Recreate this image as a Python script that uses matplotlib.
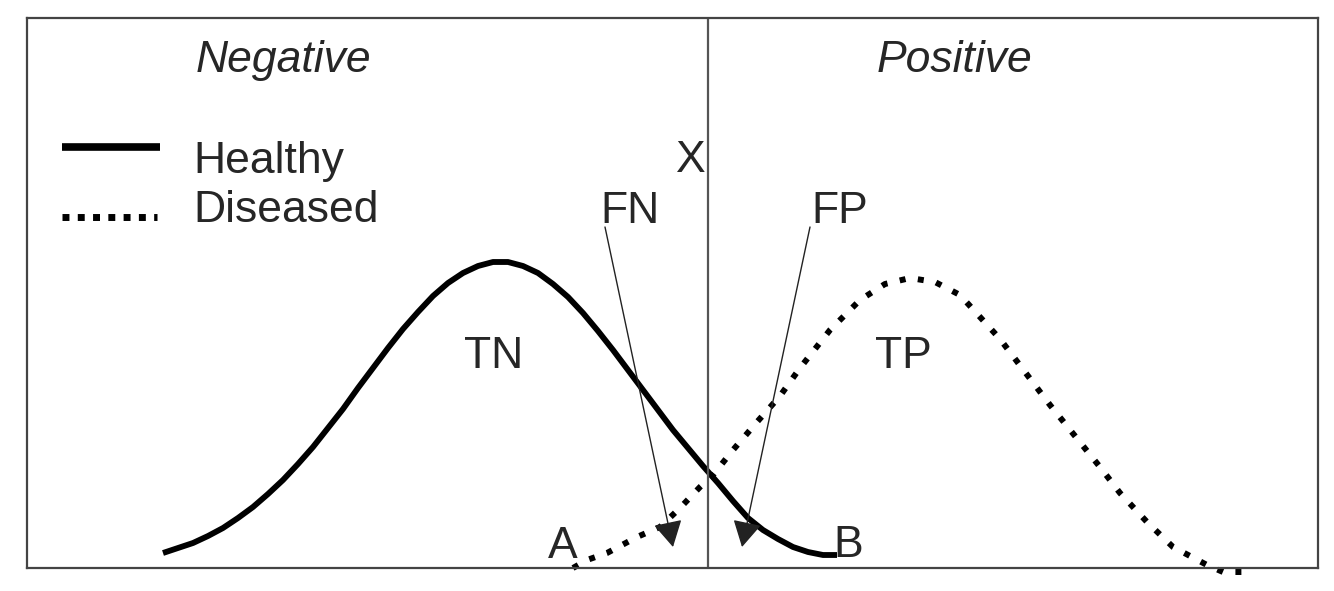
import matplotlib.pyplot as plt

plt.rcParams["font.family"] = ["Liberation Sans", "DejaVu Sans"]

# curves (x = test value, y = density, arbitrary units)
healthy_x = [136, 151, 166, 181, 196, 211, 226, 241, 256, 271, 286, 301, 316,
             331, 346, 361, 376, 391, 406, 421, 436, 451, 466, 481, 496, 511,
             526, 541, 556, 571, 586, 601, 616, 631, 646, 661, 676, 691, 706,
             721, 736, 751, 766, 781, 796, 810]
healthy_y = [15, 20, 25, 32, 40, 50, 61, 74, 88, 104, 121, 140, 159,
             180, 200, 220, 239, 256, 272, 285, 295, 302, 306, 306, 302, 295,
             284, 271, 255, 237, 218, 198, 178, 158, 138, 120, 102, 85, 67,
             50, 38, 29, 21, 16, 13, 13]

diseased_x = [546, 560, 580, 610, 633, 653, 673, 686, 706, 730, 753, 773, 803,
              833, 858, 883, 908, 933, 973, 1023, 1073, 1093, 1120, 1146, 1180,
              1196, 1215]
diseased_y = [0, 8, 15, 31, 41, 60, 81, 93, 118, 146, 172, 200, 238,
              268, 284, 290, 286, 273, 229, 163, 101, 75, 46, 21, 3,
              -4, -4]

cutoff_x = 681
x_range = (0, 1291)
y_range = (0, 550)

# annotation arrows: (label anchor, arrow tip)
fn_arrow = ((578, 341), (646, 21))
fp_arrow = ((783, 341), (715, 21))

TEXT = "#262626"
FS = 32

fig = plt.figure(figsize=(13.34, 5.91), dpi=100)
ax = fig.add_axes([27 / 1334, 23 / 591, 1291 / 1334, 550 / 591])
ax.set_xlim(*x_range)
ax.set_ylim(*y_range)
ax.set_xticks([])
ax.set_yticks([])
for s in ax.spines.values():
    s.set_color("#444444")
    s.set_linewidth(1.6)

ax.plot(healthy_x, healthy_y, color="black", lw=4.2, solid_capstyle="butt",
        solid_joinstyle="round")
ax.plot(diseased_x, diseased_y, color="black", lw=4.3, linestyle=(0, (1, 2.1)),
        dash_capstyle="butt", clip_on=False)
ax.axvline(cutoff_x, color="#555555", lw=1.6)

# legend keys
ax.plot([35, 133], [421, 421], color="black", lw=5.5, solid_capstyle="butt")
ax.plot([35, 130], [351, 351], color="black", lw=5, linestyle=(0, (1, 1.2)),
        dash_capstyle="butt")
ax.text(166, 395, "Healthy", fontsize=FS, color=TEXT, va="baseline")
ax.text(166, 346, "Diseased", fontsize=FS, color=TEXT, va="baseline")

ax.text(256, 496, "Negative", fontsize=FS, color=TEXT, style="italic", ha="center", va="baseline")
ax.text(928, 496, "Positive", fontsize=FS, color=TEXT, style="italic", ha="center", va="baseline")

ax.text(664, 396, "X", fontsize=FS, color=TEXT, ha="center", va="baseline")
ax.text(603, 345, "FN", fontsize=FS, color=TEXT, ha="center", va="baseline")
ax.text(813, 345, "FP", fontsize=FS, color=TEXT, ha="center", va="baseline")
ax.text(467, 200, "TN", fontsize=FS, color=TEXT, ha="center", va="baseline")
ax.text(876, 200, "TP", fontsize=FS, color=TEXT, ha="center", va="baseline")
ax.text(536, 10, "A", fontsize=FS, color=TEXT, ha="center", va="baseline")
ax.text(821, 11, "B", fontsize=FS, color=TEXT, ha="center", va="baseline")

for start, tip in (fn_arrow, fp_arrow):
    ax.annotate("", xy=tip, xytext=start,
                arrowprops=dict(arrowstyle="-|>,head_length=0.45,head_width=0.25",
                                mutation_scale=36, lw=1.0, color="#222222",
                                shrinkA=0, shrinkB=0))

fig.savefig("out.png", dpi=100)
